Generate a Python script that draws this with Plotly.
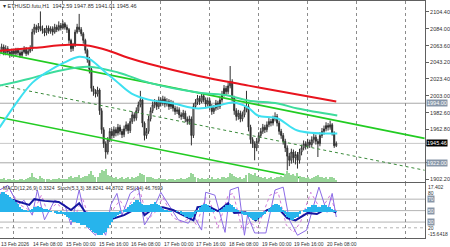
import plotly.graph_objects as go

# ---------------- data ----------------
# hourly bars, x = hours since 14 Feb 2026 00:00
bar_hours = list(range(-7, 159))
first_open = 2055
closes = [2058, 2062, 2055, 2060, 2056, 2053, 2057, 2054, 2058, 2055, 2052, 2056, 2059, 2054, 2057, 2060,
          2080, 2086, 2083, 2087, 2084,
          2082, 2079, 2085, 2081, 2084, 2080, 2086, 2083, 2088, 2085,
          2090, 2086, 2083, 2070, 2060, 2064, 2080, 2086, 2083, 2078, 2070, 2058,
          2047, 2035, 2012, 2008, 2005, 2010, 1985, 1962, 1945, 1935,
          1950, 1960, 1955, 1962, 1958, 1965, 1960, 1956, 1963, 1968, 1961,
          1972, 1980, 1976, 1985, 1992, 1998, 1970, 1955, 1960, 1975, 1985, 1992,
          1995, 1990, 1998, 1994, 1999, 1993, 1996, 1990, 1994,
          1988, 1984, 1986, 1980, 1978, 1982, 1975, 1972,
          1975, 1955, 1990,
          1995, 2000, 1996, 2003, 1998, 1993, 1997,
          1990, 1984, 1988, 1994, 1990,
          1998, 2005, 2012, 2008, 2015, 2020,
          2000, 1985, 1978,
          1982, 1975, 1980, 1986, 1990,
          1965, 1950, 1945, 1940, 1948,
          1955, 1960, 1965, 1962, 1968, 1972, 1970, 1975, 1978,
          1970, 1960, 1955, 1948,
          1940, 1930, 1925, 1935, 1928, 1932,
          1925, 1935, 1940,
          1945, 1942, 1947, 1944,
          1950, 1953, 1948, 1945,
          1955, 1960, 1963, 1967, 1965,
          1968,
          1958, 1942.59, 1945.46]
highs = [2063, 2066, 2065, 2064, 2063, 2059, 2060, 2060, 2061, 2061, 2058, 2059, 2063, 2062, 2060, 2064,
         2084, 2090, 2089, 2091, 2105,
         2088, 2085, 2088, 2088, 2087, 2087, 2090, 2089, 2093, 2091,
         2094, 2092, 2089, 2085, 2072, 2067, 2083, 2090, 2102, 2086, 2080, 2072,
         2060, 2050, 2038, 2015, 2011, 2014, 2012, 1988, 1965, 1948,
         1953, 1964, 1963, 1966, 1965, 1969, 1968, 1963, 1967, 1972, 1970,
         1976, 1984, 1983, 1989, 1996, 2009, 2000, 1972, 1964, 1979, 1989, 1996,
         1999, 1998, 2002, 2001, 2003, 2002, 2000, 1999, 1998,
         1997, 1991, 1990, 1989, 1983, 1986, 1985, 1978,
         1979, 1978, 1994,
         1999, 2004, 2003, 2007, 2006, 2001, 2001,
         2000, 1993, 1992, 1998, 1997,
         2002, 2009, 2016, 2015, 2019, 2039,
         2023, 2003, 1988,
         1986, 1985, 1984, 1990, 2009,
         1993, 1968, 1953, 1948, 1952,
         1959, 1964, 1969, 1968, 1972, 1976, 1975, 1979, 1983,
         1981, 1973, 1963, 1958,
         1951, 1943, 1934, 1939, 1938, 1936,
         1935, 1939, 1944,
         1949, 1948, 1951, 1950,
         1954, 1957, 1956, 1951,
         1959, 1964, 1967, 1971, 1970,
         1973,
         1970, 1960, 1947.85]
lows = [2051, 2055, 2052, 2052, 2053, 2049, 2050, 2051, 2051, 2052, 2049, 2050, 2054, 2051, 2052, 2055,
        2057, 2077, 2079, 2080, 2081,
        2078, 2075, 2076, 2078, 2078, 2076, 2078, 2080, 2081, 2082,
        2083, 2083, 2079, 2066, 2056, 2057, 2062, 2078, 2080, 2075, 2066, 2054,
        2043, 2030, 2008, 2003, 2001, 2002, 1980, 1957, 1940, 1927,
        1932, 1947, 1951, 1952, 1954, 1955, 1956, 1952, 1953, 1960, 1957,
        1958, 1969, 1972, 1973, 1982, 1989, 1965, 1949, 1951, 1957, 1972, 1982,
        1988, 1986, 1987, 1990, 1991, 1989, 1990, 1986, 1987,
        1984, 1980, 1981, 1976, 1974, 1975, 1971, 1968,
        1968, 1943, 1952,
        1987, 1992, 1992, 1994, 1995, 1989, 1990,
        1986, 1980, 1981, 1985, 1986,
        1987, 1995, 2002, 2004, 2005, 2012,
        1996, 1980, 1973,
        1974, 1971, 1972, 1977, 1983,
        1960, 1945, 1940, 1925, 1936,
        1945, 1952, 1957, 1958, 1959, 1965, 1966, 1967, 1972,
        1966, 1956, 1951, 1944,
        1935, 1913, 1918, 1921, 1922, 1920,
        1915, 1921, 1931,
        1937, 1938, 1939, 1940,
        1941, 1946, 1944, 1929,
        1942, 1952, 1956, 1960, 1961,
        1962,
        1955, 1940, 1941.01]
volumes = [600, 500, 700, 400, 500, 600, 400, 500, 300, 400, 500, 600, 400, 500, 700, 800,
           1500, 900, 700, 600, 1100,
           700, 600, 500, 600, 400, 500, 600, 500, 700, 600, 500, 600, 500,
           900, 1000, 700, 800, 900, 1200, 700, 800, 1000,
           1100, 1300, 1800, 1200, 900, 800, 1500, 2000, 1800, 2200,
           1200, 1000, 800, 700, 900, 600, 700, 800, 600, 700, 800, 600, 900, 700,
           800, 1000, 1600, 1400, 1200, 900, 800, 900, 700,
           600, 500, 700, 600, 500, 600, 400, 500, 600, 500, 400, 600, 500, 700, 500, 600, 700,
           900, 1500, 1300,
           800, 700, 600, 700, 600, 500, 700, 600, 800, 600, 500, 700,
           600, 800, 900, 700, 800, 1500, 1300, 1100, 900, 700, 800, 600, 700, 1200,
           1500, 1400, 1200, 1600, 1000, 900, 800, 700, 800, 600, 700, 800, 600, 700, 900, 800, 1000, 900,
           1300, 1800, 1500, 1200, 1400, 1100, 1500, 1000, 900, 800, 700, 900, 600, 700, 800, 1000,
           1200, 900, 800, 700, 800, 600, 900, 800, 700, 300]

# moving averages (hour, price)
ma_red_h = [-7, 10, 27, 37, 46.5, 56, 66, 90, 115, 139, 158]
ma_red_p = [2057.4, 2061.0, 2064.6, 2063.4, 2057.4, 2049.0, 2041.8, 2027.3, 2015.3, 2004.5, 1996.0]
ma_cyan_h = [-7, 0.3, 9.1, 17.3, 24.6, 31.9, 36.8, 40.2, 45.1, 49.9, 57.7, 66.0, 78.2, 90.3, 100.1, 107.4,
             114.7, 119.5, 129.3, 139.0, 158.5]
ma_cyan_p = [1964.7, 1991.2, 2018.9, 2033.3, 2043.0, 2050.2, 2047.8, 2041.8, 2030.9, 2021.3, 2005.7, 1998.4,
             1993.6, 1987.6, 1991.2, 1994.8, 1988.8, 1979.2, 1975.6, 1961.1, 1957.5]
ma_teal_h = [-7, 7.6, 22.2, 36.8, 51.4, 66.0, 90.3, 104.9, 114.7, 129.3, 139.0, 158.5]
ma_teal_p = [2015.3, 2023.7, 2033.3, 2038.2, 2030.9, 2018.9, 2006.9, 2003.3, 1997.2, 1993.6, 1987.6, 1979.2]

# regression channel (hour, price)
chan_h = [-7, 201.3]
chan_upper = [2055.0, 1951.5]
chan_mid = [2015.9, 1913.0]
chan_lower = [1976.8, 1873.7]

levels = [1994.00, 1922.00]
bid = 1945.46

# indicators
macd_hist = [11, 12, 12, 11, 10, 9, 8, 7,
             6, 5, 3, 2, 1,
             1, 0.5, 1, 2, 3, 3, 3.5, 3, 2.5, 2,
             1.5, 1, 0.5, 0, -0.5, -1, -1.5, -1, -1.5, -2,
             -3, -4, -5, -6, -6, -7, -7, -8, -8, -8, -9, -10,
             -11, -12, -13, -14, -14, -14, -13, -12,
             -10, -8, -6, -4, -3, -2, -1, 0, 1,
             2, 3, 4, 5, 6, 7, 7, 6, 5, 4, 4, 4,
             5, 5, 6, 5, 4, 3, 2,
             1, 1, 0.5, 0.5, 0, 0, 0.5, 0,
             -1, -2, -3, -3, -4, -4, -3,
             -1, 1, 3, 4, 5, 5, 4, 3,
             2, 1, 0, 0, 1, 2,
             3, 4, 4, 5, 4, 3, 2,
             1, 0, -1, -2, -2, -3, -4, -5, -5, -5, -4,
             -3, -2, -1, 0, 2, 3, 4, 5, 5, 4, 3,
             1, -1, -3, -4, -5, -5, -4, -3,
             -1, 0, 1, 2, 3, 3, 4, 4, 4, 3, 3, 4, 4, 4, 3, 3, 2, 1, 0.3324]

stoch_h = [-7, -3, 2, 5, 9, 11.5, 15, 20, 25, 28, 32, 36, 40, 42, 45, 47.5, 50.5, 53, 57, 61, 64, 67,
           72, 80.5, 85.5, 88, 92, 94, 98.5, 103.5, 106, 110, 113, 114.5, 118, 123.5, 128, 132, 135,
           139, 143.5, 149.5, 153.5, 156, 158]
stoch_main = [86, 94, 60, 68, 42, 86, 34, 68, 60, 25, 86, 21, 7, 25, 7, 60, 80, 42, 80, 91, 25, 42,
              82, 34, 28, 42, 16, 82, 77, 12, 86, 91, 7, 42, 11, 11, 86, 91, 34, 7, 16, 91, 47, 80, 38.8241]
stoch_sig_h = [-7, -2, 3, 9.5, 13.5, 16.5, 21, 29.5, 33.5, 38, 41.5, 45.5, 49, 52, 55, 59, 62, 65.5, 69,
               73, 78, 82, 87, 89.5, 94, 96, 100, 105, 107.5, 112, 115.5, 119.5, 125.5, 129.5, 133.5,
               137, 140.5, 145.5, 150.5, 155, 158]
stoch_sig = [80, 86, 60, 47, 77, 47, 63, 34, 73, 25, 12, 20, 54, 68, 51, 73, 82, 34, 46, 73, 38, 30,
             37, 25, 73, 68, 20, 77, 80, 16, 30, 20, 77, 82, 25, 12, 30, 82, 51, 77, 44.8702]
rsi_h = [-7, 0, 7.5, 10, 15, 22, 28, 32, 36, 39, 44, 47.5, 54, 58.5, 62, 64, 68.5, 73, 78, 83, 88, 90,
         95, 100, 105, 108, 113.5, 118.5, 124, 129, 134, 138, 144, 148.5, 153.5, 158]
rsi = [73, 68, 60, 70, 67, 65, 51, 63, 42, 30, 23, 35, 42, 51, 60, 42, 54, 56, 51, 42, 33, 56, 58, 49,
       63, 46, 47, 33, 51, 56, 37, 33, 46, 44, 54, 46.7699]

price_ticks = [2104.40, 2084.00, 2063.60, 2043.20, 2023.40, 2003.00, 1982.60, 1962.80, 1942.40, 1922.00, 1902.20]
hidden_ticks = [1942.40, 1922.00]   # covered by the bid / level boxes
time_label_h = [-8, 8, 24, 40, 56, 72, 88, 104, 120, 136, 152]
time_labels = ["13 Feb 2026", "14 Feb 08:00", "15 Feb 00:00", "15 Feb 16:00", "16 Feb 08:00",
               "17 Feb 00:00", "17 Feb 16:00", "18 Feb 08:00", "19 Feb 00:00", "19 Feb 16:00", "20 Feb 08:00"]

# ---------------- figure ----------------
opens = [first_open] + closes[:-1]
FONT = "Liberation Sans"
fig = go.Figure()

fig.add_trace(go.Bar(x=bar_hours, y=volumes, yaxis="y3", width=0.5,
                     marker=dict(color="#9ad69a", line=dict(width=0)), hoverinfo="skip"))

for h, p, c, w, d in [(chan_h, chan_mid, "#3a8a3a", 1, "dot"),
                      (chan_h, chan_upper, "#22cc22", 1.6, "solid"),
                      (chan_h, chan_lower, "#22cc22", 1.6, "solid")]:
    fig.add_trace(go.Scatter(x=h, y=p, mode="lines", line=dict(color=c, width=w, dash=d)))

fig.add_trace(go.Candlestick(x=bar_hours, open=opens, high=highs, low=lows, close=closes,
                             increasing=dict(line=dict(color="#303030", width=1), fillcolor="#ffffff"),
                             decreasing=dict(line=dict(color="#303030", width=1), fillcolor="#303030"),
                             whiskerwidth=0))

fig.add_trace(go.Scatter(x=ma_teal_h, y=ma_teal_p, mode="lines", line=dict(color="#3ddc9c", width=2, shape="spline")))
fig.add_trace(go.Scatter(x=ma_cyan_h, y=ma_cyan_p, mode="lines", line=dict(color="#3ee0f0", width=2, shape="spline")))
fig.add_trace(go.Scatter(x=ma_red_h, y=ma_red_p, mode="lines", line=dict(color="#e8141e", width=2, shape="spline")))

# indicator panel
fig.add_trace(go.Bar(x=bar_hours, y=macd_hist, xaxis="x2", yaxis="y4", width=1,
                     marker=dict(color="#27b4ec", line=dict(width=0))))
fig.add_trace(go.Scatter(x=stoch_sig_h, y=stoch_sig, xaxis="x2", yaxis="y2", mode="lines",
                         line=dict(color="#d27ad8", width=1, dash="dot")))
fig.add_trace(go.Scatter(x=stoch_h, y=stoch_main, xaxis="x2", yaxis="y2", mode="lines",
                         line=dict(color="#8a6ae6", width=1)))
fig.add_trace(go.Scatter(x=rsi_h, y=rsi, xaxis="x2", yaxis="y2", mode="lines",
                         line=dict(color="#1616a0", width=2)))

shapes = []
for lv in levels:
    shapes.append(dict(type="line", xref="x", yref="y", x0=-6.81, x1=201.5, y0=lv, y1=lv,
                       line=dict(color="#a8a8a8", width=1), layer="below"))
shapes.append(dict(type="line", xref="x", yref="y", x0=-6.81, x1=201.5, y0=bid, y1=bid,
                   line=dict(color="#c8c8c8", width=1), layer="below"))
for lv, dash in [(70, "solid"), (50, "solid"), (30, "solid"), (20, "dot")]:
    shapes.append(dict(type="line", xref="x2", yref="y2", x0=-6.81, x1=201.5, y0=lv, y1=lv,
                       line=dict(color="#b4b4b4", width=1, dash=dash), layer="below"))

ann = []
ann.append(dict(xref="paper", yref="paper", x=0.003, y=1.0, xanchor="left", yanchor="top",
                text="▾ ETHUSD.futu,H1  1942.59 1947.85 1941.01 1945.46", showarrow=False,
                font=dict(size=5.5, color="#303030", family=FONT)))
ann.append(dict(xref="paper", yref="y4", x=0.003, y=17.402, xanchor="left", yanchor="top",
                text="MACD(12,26,9) 0.3324  Stoch(5,3,3) 38.8241 44.8702  RSI(14) 46.7699",
                showarrow=False, font=dict(size=5, color="#303030", family=FONT)))
for h, t in zip(time_label_h, time_labels):
    ann.append(dict(xref="x2", yref="paper", x=max(h, -6.8), xshift=(-1.6 if h < -6.8 else 0) + 1,
                    y=-0.004, xanchor="left", yanchor="top", text=t, showarrow=False,
                    font=dict(size=5, color="#303030", family=FONT)))
for val, txt, bg in [(1994.00, "1994.00", "#8796a8"), (bid, "1945.46", "#000000"), (1922.00, "1922.00", "#8796a8")]:
    ann.append(dict(xref="paper", yref="y", x=1.0, y=val, xanchor="left", yanchor="middle", xshift=1,
                    text=txt, showarrow=False, bgcolor=bg, borderpad=0,
                    font=dict(size=5.5, color="#ffffff", family=FONT)))
for yref, val, txt, bg, anchor in [("y4", 17.402, "17.402", None, "top"), ("y2", 80, "80", None, "middle"),
                                   ("y2", 70, "70", "#8796a8", "middle"), ("y2", 50, "50", "#8796a8", "middle"),
                                   ("y2", 30, "30", "#8796a8", "middle"), ("y2", 20, "20", None, "middle"),
                                   ("y4", -15.6418, "-15.6418", None, "bottom")]:
    a = dict(xref="paper", yref=yref, x=1.0, y=val, xanchor="left", yanchor=anchor, xshift=2,
             text=txt, showarrow=False, borderpad=0,
             font=dict(size=5, color="#ffffff" if bg else "#303030", family=FONT))
    if bg:
        a["bgcolor"] = bg
    ann.append(a)

xcommon = dict(range=[-6.81, 201.5], showgrid=True, gridcolor="#8c8c8c", griddash="dot", gridwidth=1,
               tick0=0, dtick=24, showticklabels=False, ticks="", zeroline=False,
               showline=True, linecolor="#606060", linewidth=1, mirror=True)

fig.update_layout(
    width=450, height=247, margin=dict(l=0, r=22, t=0, b=9),
    paper_bgcolor="white", plot_bgcolor="white", showlegend=False, bargap=0,
    font=dict(family=FONT, size=5.5, color="#303030"),
    xaxis=dict(**xcommon, rangeslider=dict(visible=False), anchor="y"),
    xaxis2=dict(**xcommon, matches="x", anchor="y2"),
    yaxis=dict(domain=[0.2353, 1.0], range=[1898.5, 2117.6], side="right", showgrid=False, zeroline=False,
               tickvals=price_ticks,
               ticktext=["" if v in hidden_ticks else f"{v:.2f}" for v in price_ticks],
               ticks="outside", ticklen=3, tickcolor="#606060",
               tickfont=dict(size=5.5, color="#303030", family=FONT),
               showline=True, linecolor="#606060", linewidth=1, anchor="x"),
    yaxis3=dict(domain=[0.2353, 1.0], range=[0, 30000], overlaying="y", visible=False),
    yaxis2=dict(domain=[0.0, 0.2311], range=[2.2, 97.8], side="right", showgrid=False, zeroline=False,
                showticklabels=False, ticks="", showline=True, linecolor="#606060", linewidth=1, anchor="x2"),
    yaxis4=dict(domain=[0.0, 0.2311], range=[-15.6418, 17.402], overlaying="y2", visible=False),
    shapes=shapes, annotations=ann,
)

fig.write_html("out.html")
